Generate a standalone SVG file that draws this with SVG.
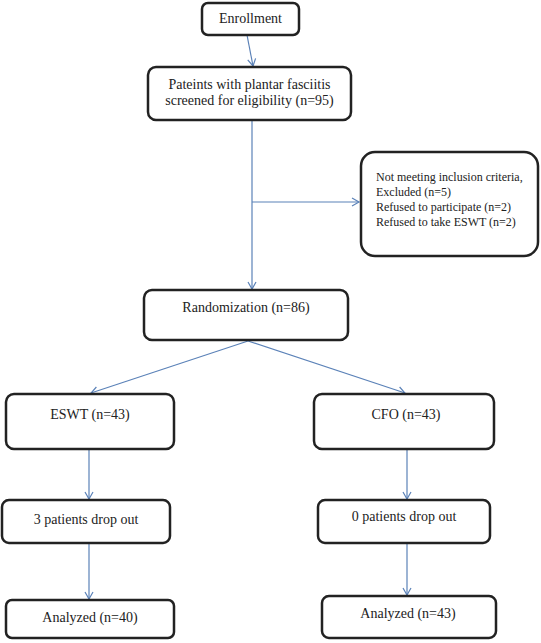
<svg xmlns="http://www.w3.org/2000/svg" width="541" height="643" viewBox="0 0 541 643">
<defs>
<marker id="arr" markerWidth="12" markerHeight="12" refX="9" refY="6" orient="auto" markerUnits="userSpaceOnUse">
<path d="M2,2 L9,6 L2,10" fill="none" stroke="#5b82b8" stroke-width="1.2"/>
</marker>
</defs>
<style>
.box{fill:#fff;stroke:#222;stroke-width:2.5}
.t{font-size:14px;fill:#222;text-anchor:middle}
.ts{font-size:12px;fill:#222}
.c{fill:none;stroke:#5b82b8;stroke-width:1.2}
</style>
<rect width="541" height="643" fill="#fff"/>
<g id="connectors">
<line class="c" x1="247" y1="35" x2="253" y2="66" marker-end="url(#arr)"/>
<line class="c" x1="252" y1="120" x2="252" y2="289" marker-end="url(#arr)"/>
<line class="c" x1="252" y1="202" x2="359" y2="202" marker-end="url(#arr)"/>
<line class="c" x1="248" y1="341" x2="91" y2="393" marker-end="url(#arr)"/>
<line class="c" x1="248" y1="341" x2="405" y2="393" marker-end="url(#arr)"/>
<line class="c" x1="89" y1="449" x2="89" y2="499" marker-end="url(#arr)"/>
<line class="c" x1="407" y1="449" x2="407" y2="499" marker-end="url(#arr)"/>
<line class="c" x1="89" y1="543" x2="89" y2="599" marker-end="url(#arr)"/>
<line class="c" x1="407" y1="543" x2="407" y2="595" marker-end="url(#arr)"/>
</g>
<g font-family="'Liberation Serif', 'Times New Roman', serif">
<g id="enrollment">
<rect class="box" x="202" y="3" width="97" height="32" rx="6"/>
<text class="t" x="250.5" y="23">Enrollment</text>
</g>
<g id="screened">
<rect class="box" x="148" y="67" width="203" height="53" rx="8"/>
<text class="t" x="249.5" y="89">Pateints with plantar fasciitis</text>
<text class="t" x="249.5" y="105">screened for eligibility (n=95)</text>
</g>
<g id="excluded">
<rect class="box" x="361" y="152" width="177" height="104" rx="14"/>
<text class="ts" x="376" y="181">Not meeting inclusion criteria,</text>
<text class="ts" x="376" y="196">Excluded (n=5)</text>
<text class="ts" x="376" y="211">Refused to participate  (n=2)</text>
<text class="ts" x="376" y="226">Refused to take ESWT (n=2)</text>
</g>
<g id="randomization">
<rect class="box" x="144" y="290" width="204" height="50" rx="8"/>
<text class="t" x="246" y="312">Randomization  (n=86)</text>
</g>
<g id="eswt">
<rect class="box" x="6" y="394" width="168" height="55" rx="8"/>
<text class="t" x="90" y="419">ESWT (n=43)</text>
</g>
<g id="cfo">
<rect class="box" x="314" y="394" width="180" height="55" rx="8"/>
<text class="t" x="406" y="419">CFO  (n=43)</text>
</g>
<g id="drop3">
<rect class="box" x="2" y="500" width="168" height="43" rx="7"/>
<text class="t" x="86" y="524">3 patients drop out</text>
</g>
<g id="drop0">
<rect class="box" x="318" y="500" width="172" height="43" rx="7"/>
<text class="t" x="404" y="521">0 patients drop out</text>
</g>
<g id="analyzed40">
<rect class="box" x="6" y="600" width="168" height="38" rx="6"/>
<text class="t" x="90" y="622">Analyzed (n=40)</text>
</g>
<g id="analyzed43">
<rect class="box" x="322" y="596" width="174" height="42" rx="7"/>
<text class="t" x="408" y="618">Analyzed (n=43)</text>
</g>
</g>
</svg>
